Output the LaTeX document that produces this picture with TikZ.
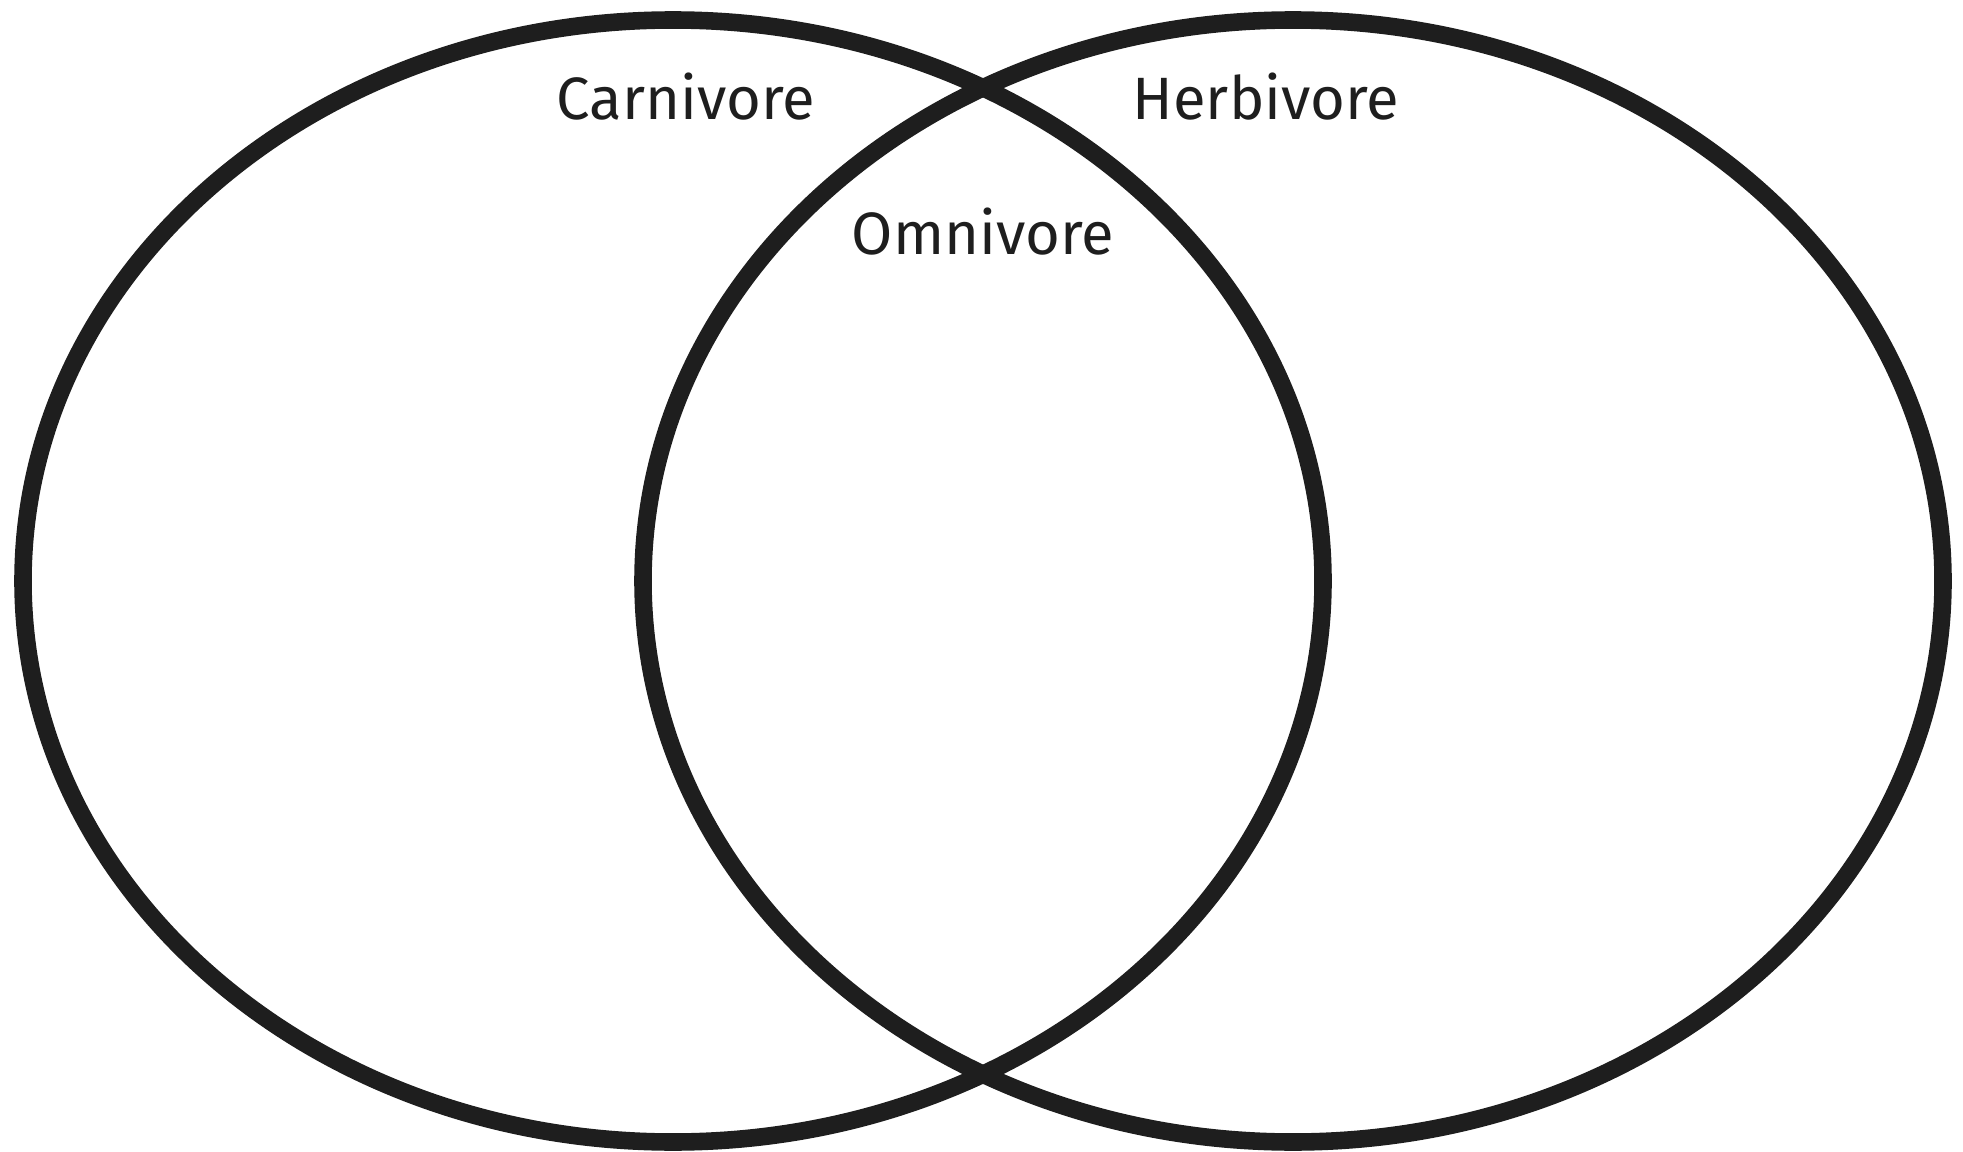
\documentclass[tikz,border=0pt]{standalone}
\usepackage{fontspec}
\setmainfont{Fira Sans}
\usepackage{tikz}
\usetikzlibrary{positioning,shapes.geometric}
\definecolor{vnink}{HTML}{1E1E1E}

\begin{document}
\begin{tikzpicture}[
    set/.style={draw=vnink, ellipse, line width=5pt, inner sep=0pt,
                minimum width=13cm, minimum height=11.22cm},
    setlabel/.style={text=vnink, anchor=base, font=\fontsize{17}{20}\selectfont}
  ]
  \useasboundingbox (0,0) rectangle (19.63,11.51);
  % the two sets
  \node[set] (carn) at (6.73,5.70) {};
  \node[set] (herb) at (12.93,5.70) {};
  % labels
  \node[setlabel] (carnlabel) at (6.86,10.31) {Carnivore};
  \node[setlabel] (herblabel) at (12.66,10.31) {Herbivore};
  \node[setlabel] (omnilabel) at (9.83,8.96) {Omnivore};
\end{tikzpicture}
\end{document}
